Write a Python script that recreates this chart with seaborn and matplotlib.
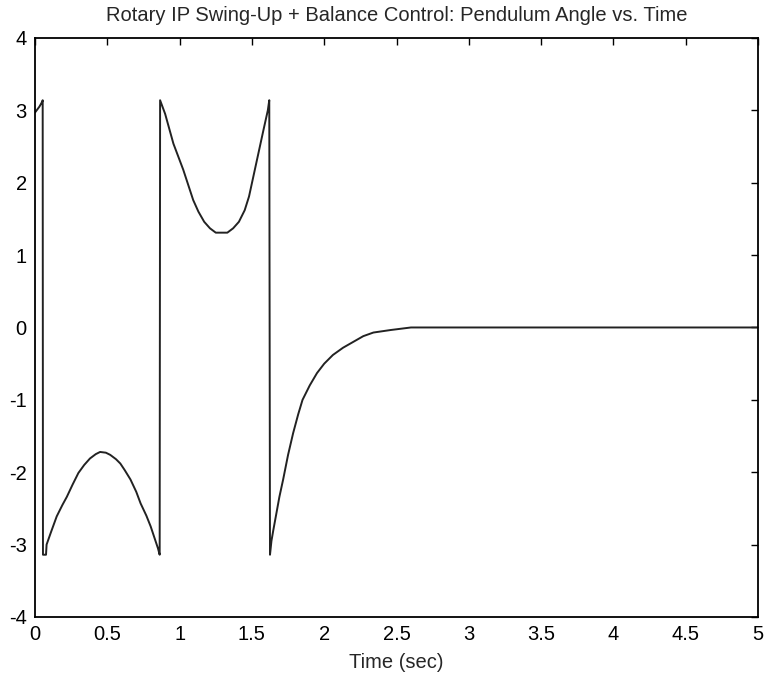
import matplotlib
matplotlib.use("Agg")
import matplotlib.pyplot as plt
import seaborn as sns
import pandas as pd

# Data
time_sec = [0.0, 0.03, 0.05, 0.053, 0.055, 0.076, 0.08, 0.11, 0.15, 0.19, 0.22, 0.26,
            0.30, 0.34, 0.38, 0.42, 0.45, 0.49, 0.52, 0.56, 0.59, 0.62, 0.66, 0.70,
            0.73, 0.77, 0.80, 0.85, 0.862, 0.865, 0.90, 0.957, 1.025, 1.094, 1.13,
            1.17, 1.21, 1.25, 1.33, 1.37, 1.41, 1.45, 1.48, 1.53, 1.58, 1.61, 1.62,
            1.625, 1.635, 1.648, 1.67, 1.69, 1.716, 1.75, 1.785, 1.82, 1.85, 1.90,
            1.95, 2.00, 2.06, 2.13, 2.2, 2.27, 2.34, 2.46, 2.6, 5.0]
angle_rad = [2.97, 3.05, 3.12, 3.14, -3.14, -3.14, -3.0, -2.83, -2.61, -2.45, -2.34, -2.17,
             -2.01, -1.90, -1.81, -1.75, -1.72, -1.73, -1.76, -1.82, -1.88, -1.97, -2.10, -2.27,
             -2.43, -2.60, -2.75, -3.05, -3.14, 3.14, 2.95, 2.54, 2.18, 1.76, 1.60,
             1.46, 1.37, 1.31, 1.31, 1.37, 1.46, 1.62, 1.81, 2.27, 2.73, 3.0, 3.14,
             -3.14, -2.95, -2.80, -2.56, -2.34, -2.10, -1.76, -1.46, -1.20, -1.00, -0.80,
             -0.63, -0.50, -0.38, -0.28, -0.20, -0.12, -0.07, -0.035, 0.0, 0.0]

x_ticks = [0, 0.5, 1, 1.5, 2, 2.5, 3, 3.5, 4, 4.5, 5]
x_tick_labels = ["0", "0.5", "1", "1.5", "2", "2.5", "3", "3.5", "4", "4.5", "5"]
y_ticks = [-4, -3, -2, -1, 0, 1, 2, 3, 4]
y_tick_labels = ["-4", "-3", "-2", "-1", "0", "1", "2", "3", "4"]

sns.set_style("white")
plt.rcParams["font.family"] = ["Liberation Sans", "DejaVu Sans"]

df = pd.DataFrame({"t": time_sec, "theta": angle_rad})

fig = plt.figure(figsize=(7.68, 6.78), dpi=100)
ax = fig.add_axes([0.0456, 0.09, 0.9414, 0.854])
sns.lineplot(data=df, x="t", y="theta", sort=False, estimator=None,
             color="#222222", linewidth=1.4, ax=ax)

ax.set_xlim(0, 5)
ax.set_ylim(-4, 4)
ax.set_xticks(x_ticks)
ax.set_xticklabels(x_tick_labels)
ax.set_yticks(y_ticks)
ax.set_yticklabels(y_tick_labels)
ax.tick_params(direction="in", length=5, width=1.0, top=True, right=True,
               labelsize=14.5, colors="black", pad=6)
for s in ax.spines.values():
    s.set_visible(True)
    s.set_color("black")
    s.set_linewidth(1.3)
ax.set_xlabel("Time (sec)", fontsize=14.5, labelpad=6)
ax.set_ylabel("")
ax.set_title("Rotary IP Swing-Up + Balance Control: Pendulum Angle vs. Time",
             fontsize=14.5, pad=12)

fig.savefig("out.png", dpi=100)
